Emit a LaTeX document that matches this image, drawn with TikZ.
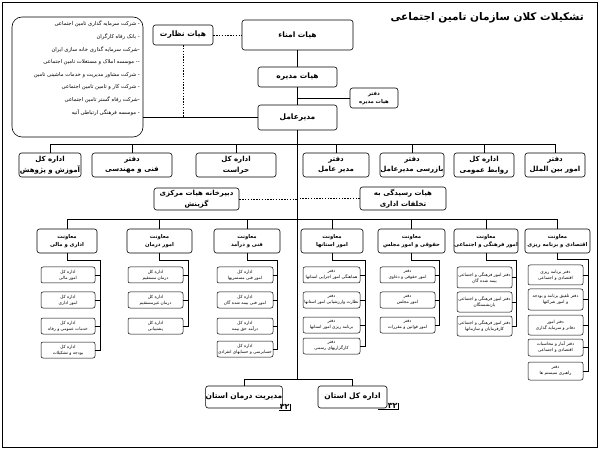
\documentclass[tikz,border=0pt]{standalone}
\usepackage{fontspec}
\TeXXeTstate=1
\newfontfamily\arabicfont[Script=Arabic]{DejaVu Sans}
\newcommand\RR[1]{\beginR #1\endR}
\newcommand\bx[7][box]{\node[#1, minimum width={(#5-#3)*1pt}, minimum height={(#6-#4)*1pt}] (#2) at ({(#3+#5)/2},{(#4+#6)/2}) {#7};}
\tikzset{
  box/.style={draw, rounded corners=2.5pt, line width=0.6pt, fill=white, align=center, inner sep=0pt,
     font=\arabicfont\bfseries\fontsize{7}{10.5}\selectfont},
  tbox/.style={box, font=\arabicfont\bfseries\fontsize{7.5}{10}\selectfont},
  mbox/.style={box, font=\arabicfont\bfseries\fontsize{5.3}{8}\selectfont},
  sbox/.style={draw, rounded corners=2pt, line width=0.5pt, fill=white, align=center, inner sep=0pt,
     font=\arabicfont\fontsize{4.3}{6}\selectfont},
  lstbox/.style={draw, rounded corners=10pt, line width=0.6pt, inner sep=0pt},
  conn/.style={line width=0.6pt},
  dotc/.style={line width=0.6pt, dash pattern=on 1.4pt off 1.4pt},
  lbl/.style={inner sep=0.6pt, font=\arabicfont\bfseries\fontsize{8}{9}\selectfont},
}
\begin{document}
\begin{tikzpicture}[x=1pt,y=-1pt]
\useasboundingbox (0,0) rectangle (600,449);
\node[draw, line width=0.8pt, minimum width=595pt, minimum height=445pt, inner sep=0pt] (frame) at (299.5,224.5) {};
\node[anchor=east, font=\arabicfont\bfseries\fontsize{10.5}{12}\selectfont, inner sep=0pt] (title) at (584,18) {\RR{تشکیلات کلان سازمان تامین اجتماعی}};

% top
\bx[tbox]{amana}{242}{20}{353}{50}{\RR{هیات امناء}}
\bx[tbox]{nezarat}{153}{25}{213}{45}{\RR{هیات نظارت}}
\bx[tbox]{modire}{258}{67}{337}{87}{\RR{هیات مدیره}}
\bx[mbox]{dhm}{350}{88}{398}{108}{\RR{دفتر}\\\RR{هیات مدیره}}
\bx[tbox]{mdir}{258}{105}{337}{130}{\RR{مدیرعامل}}
\bx[lstbox]{lst}{12}{17}{143}{137}{}
\node[anchor=north east, align=right, inner sep=0pt, font=\arabicfont\fontsize{5.3}{12.6}\selectfont] (lsttxt) at (140,21) {%
\RR{- شرکت سرمایه گذاری تامین اجتماعی}\\
\RR{- بانک رفاه کارگران}\\
\RR{-شرکت سرمایه گذاری خانه سازی ایران}\\
\RR{-- موسسه املاک و مستغلات تامین اجتماعی}\\
\RR{- شرکت مشاور مدیریت و خدمات ماشینی تامین}\\
\RR{- شرکت کار و تامین تامین اجتماعی}\\
\RR{-شرکت رفاه گستر تامین اجتماعی}\\
\RR{- موسسه فرهنگی ارتباطی آتیه}};

\coordinate (trunk) at (297,144);
\coordinate (bus2) at (297,219);
\coordinate (bot) at (297,379);

\draw[conn] (amana.south -| trunk) -- (modire.north -| trunk);
\draw[conn] (modire.south -| trunk) -- (mdir.north -| trunk);
\draw[conn] (mdir.south -| trunk) -- (bot);
\draw[conn] (dhm.west) -- (dhm.west -| trunk);
\draw[dotc] (nezarat.east) -- (amana.west);
\draw[dotc] (nezarat.south) -- (nezarat.south |- mdir.west);
\draw[conn] (mdir.west -| lst.east) -- (mdir.west);

% level 2
\bx{a1}{19}{153}{81}{177}{\RR{اداره کل}\\\RR{آموزش و پژوهش}}
\bx{a2}{92}{153}{172}{177}{\RR{دفتر}\\\RR{فنی و مهندسی}}
\bx{a3}{196}{153}{276}{177}{\RR{اداره کل}\\\RR{حراست}}
\bx{a4}{303}{153}{369}{177}{\RR{دفتر}\\\RR{مدیر عامل}}
\bx{a5}{380}{153}{444}{177}{\RR{دفتر}\\\RR{بازرسی مدیرعامل}}
\bx{a6}{454}{153}{514}{177}{\RR{اداره کل}\\\RR{روابط عمومی}}
\bx{a7}{525}{153}{585}{177}{\RR{دفتر}\\\RR{امور بین الملل}}
\draw[conn] (a1.north |- trunk) -- (a7.north |- trunk);
\foreach \n in {a1,a2,a3,a4,a5,a6,a7} \draw[conn] (\n.north) -- (\n.north |- trunk);

% level 3
\bx{gz}{154}{188}{239}{210}{\RR{دبیرخانه هیات مرکزی}\\\RR{گزینش}}
\bx{hr}{360}{187}{446}{210}{\RR{هیات رسیدگی به}\\\RR{تخلفات اداری}}
\draw[dotc] (gz.east) -- (gz.east -| trunk);
\draw[dotc] (hr.west) -- (hr.west -| trunk);

% level 4
\bx[mbox]{m1}{37}{229}{97}{253}{\RR{معاونت}\\\RR{اداری و مالی}}
\bx[mbox]{m2}{127}{229}{192}{253}{\RR{معاونت}\\\RR{امور درمان}}
\bx[mbox]{m3}{214}{229}{280}{253}{\RR{معاونت}\\\RR{فنی و درآمد}}
\bx[mbox]{m4}{301}{229}{363}{253}{\RR{معاونت}\\\RR{امور استانها}}
\bx[mbox]{m5}{378}{229}{445}{253}{\RR{معاونت}\\\RR{حقوقی و امور مجلس}}
\bx[mbox]{m6}{454}{229}{518}{253}{\RR{معاونت}\\\RR{امور فرهنگی و اجتماعی}}
\bx[mbox]{m7}{525}{229}{590}{253}{\RR{معاونت}\\\RR{اقتصادی و برنامه ریزی}}
\draw[conn] (m1.north |- bus2) -- (m7.north |- bus2);
\foreach \n in {m1,m2,m3,m4,m5,m6,m7} \draw[conn] (\n.north) -- (\n.north |- bus2);

% column 1
\bx[sbox]{s11}{41}{267}{95}{283}{\RR{اداره کل}\\\RR{امور مالی}}
\bx[sbox]{s12}{41}{292}{95}{308}{\RR{اداره کل}\\\RR{امور اداری}}
\bx[sbox]{s13}{41}{318}{95}{334}{\RR{اداره کل}\\\RR{خدمات عمومی و رفاه}}
\bx[sbox]{s14}{41}{342}{95}{358}{\RR{اداره کل}\\\RR{بودجه و تشکیلات}}
\coordinate (v1) at (100,260);
\draw[conn] (m1.south) |- (v1) |- (s14.east);
\foreach \n in {s11,s12,s13} \draw[conn] (\n.east) -- (\n.east -| v1);

% column 2
\bx[sbox]{s21}{128}{267}{183}{283}{\RR{اداره کل}\\\RR{درمان مستقیم}}
\bx[sbox]{s22}{128}{292}{183}{308}{\RR{اداره کل}\\\RR{درمان غیرمستقیم}}
\bx[sbox]{s23}{128}{318}{183}{334}{\RR{اداره کل}\\\RR{پشتیبانی}}
\coordinate (v2) at (188,260);
\draw[conn] (m2.south) |- (v2) |- (s23.east);
\foreach \n in {s21,s22} \draw[conn] (\n.east) -- (\n.east -| v2);

% column 3
\bx[sbox]{s31}{217}{267}{273}{283}{\RR{اداره کل}\\\RR{امور فنی مستمریها}}
\bx[sbox]{s32}{217}{292}{273}{308}{\RR{اداره کل}\\\RR{امور فنی بیمه شده گان}}
\bx[sbox]{s33}{217}{318}{273}{334}{\RR{اداره کل}\\\RR{درآمد حق بیمه}}
\bx[sbox]{s34}{217}{341}{273}{357}{\RR{اداره کل}\\\RR{حسابرسی و حسابهای انفرادی}}
\coordinate (v3) at (277,260);
\draw[conn] (m3.south) |- (v3) |- (s34.east);
\foreach \n in {s31,s32,s33} \draw[conn] (\n.east) -- (\n.east -| v3);

% column 4
\bx[sbox]{s41}{303}{267}{360}{283}{\RR{دفتر}\\\RR{هماهنگی امور اجرایی استانها}}
\bx[sbox]{s42}{303}{292}{360}{308}{\RR{دفتر}\\\RR{نظارت وارزشیابی امور استانها}}
\bx[sbox]{s43}{303}{317}{360}{333}{\RR{دفتر}\\\RR{برنامه ریزی امور استانها}}
\bx[sbox]{s44}{303}{338}{360}{354}{\RR{دفتر}\\\RR{کارگزاریهای رسمی}}
\coordinate (v4) at (365,260);
\draw[conn] (m4.south) |- (v4) |- (s44.east);
\foreach \n in {s41,s42,s43} \draw[conn] (\n.east) -- (\n.east -| v4);

% column 5
\bx[sbox]{s51}{380}{267}{435}{283}{\RR{دفتر}\\\RR{امور حقوقی و دعاوی}}
\bx[sbox]{s52}{380}{292}{435}{308}{\RR{دفتر}\\\RR{امور مجلس}}
\bx[sbox]{s53}{380}{317}{435}{333}{\RR{دفتر}\\\RR{امور قوانین و مقررات}}
\coordinate (v5) at (439,260);
\draw[conn] (m5.south) |- (v5) |- (s53.east);
\foreach \n in {s51,s52} \draw[conn] (\n.east) -- (\n.east -| v5);

% column 6
\bx[sbox]{s61}{457}{267}{512}{288}{\RR{دفتر امور فرهنگی و اجتماعی}\\\RR{بیمه شده گان}}
\bx[sbox]{s62}{457}{292}{512}{312}{\RR{دفتر امور فرهنگی و اجتماعی}\\\RR{بازنشستگان}}
\bx[sbox]{s63}{457}{316}{512}{336}{\RR{دفتر امور فرهنگی و اجتماعی}\\\RR{کارفرمایان و سازمانها}}
\coordinate (v6) at (516,260);
\draw[conn] (m6.south) |- (v6) |- (s63.east);
\foreach \n in {s61,s62} \draw[conn] (\n.east) -- (\n.east -| v6);

% column 7
\bx[sbox]{s71}{528}{265}{583}{285}{\RR{دفتر برنامه ریزی}\\\RR{اقتصادی و اجتماعی}}
\bx[sbox]{s72}{528}{289}{583}{310}{\RR{دفتر تلفیق برنامه و بودجه}\\\RR{و امور شرکتها}}
\bx[sbox]{s73}{528}{315}{583}{335}{\RR{دفتر امور}\\\RR{دفاتر و سرمایه گذاری}}
\bx[sbox]{s74}{528}{339}{583}{356}{\RR{دفتر آمار و محاسبات}\\\RR{اقتصادی و اجتماعی}}
\bx[sbox]{s75}{528}{362}{583}{380}{\RR{دفتر}\\\RR{راهبری سیستم ها}}
\coordinate (v7) at (588,259);
\draw[conn] (m7.south) |- (v7) |- (s75.east);
\foreach \n in {s71,s72,s73,s74} \draw[conn] (\n.east) -- (\n.east -| v7);

% bottom
\bx[tbox]{dp}{210}{386}{278}{408}{\RR{مدیریت درمان استان}}
\bx[tbox]{ok}{318}{386}{387}{408}{\RR{اداره کل استان}}
\draw[conn] (dp.north) |- (bot);
\draw[conn] (ok.north) |- (bot);
\node[lbl, anchor=north west] (n1) at (279,404) {\RR{۳۲}};
\node[lbl, anchor=north west] (n2) at (387,403) {\RR{۳۲}};
\draw[conn] (n1.south west) -- (n1.south east) -- (n1.north east);
\draw[conn] ([xshift=-9pt]n2.south west) -- (n2.south east) -- (n2.north east);
\end{tikzpicture}
\end{document}
